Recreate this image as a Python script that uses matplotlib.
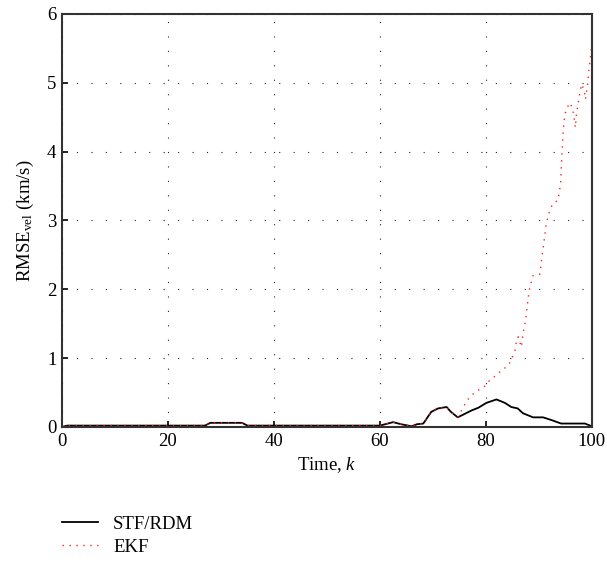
import matplotlib
matplotlib.use("Agg")
import matplotlib.pyplot as plt

plt.rcParams["font.family"] = "Liberation Serif"
plt.rcParams["mathtext.fontset"] = "custom"
plt.rcParams["mathtext.rm"] = "Liberation Serif"
plt.rcParams["mathtext.it"] = "Liberation Serif:italic"

# STF/RDM velocity RMSE
stf_k = [0, 1, 27, 28, 34, 35, 60, 62.5, 64, 66, 67, 68.2, 69.7, 71, 72.6, 73.4,
         74.7, 76, 77.3, 78.6, 80.1, 82, 83.6, 84.8, 86, 87, 88.9, 90.8, 92.4,
         94.2, 98.7, 100]
stf_v = [0.0, 0.02, 0.02, 0.06, 0.06, 0.02, 0.02, 0.07, 0.04, 0.01, 0.04, 0.05,
         0.22, 0.27, 0.29, 0.22, 0.14, 0.19, 0.24, 0.28, 0.35, 0.40, 0.35, 0.29,
         0.27, 0.20, 0.14, 0.14, 0.10, 0.05, 0.05, 0.01]

# EKF velocity RMSE
ekf_k = [0, 1, 27, 28, 34, 35, 60, 62.5, 64, 66, 67, 68.2, 69.7, 71, 72.6, 73.4,
         74.7, 75.1, 75.7, 77, 78.2, 79.2, 80.1, 80.8, 82, 83, 83.9, 84.6, 85.5,
         85.8, 86.1, 86.7, 87, 87.5, 88, 88.3, 88.9, 90.2, 90.5, 91, 91.4, 92.1,
         92.7, 93.6, 94.1, 94.3, 94.6, 94.9, 95.2, 95.8, 96.3, 96.7, 96.9, 97.1,
         97.4, 97.8, 98.1, 98.6, 98.8, 99.2, 99.5, 99.8, 100]
ekf_v = [0.0, 0.02, 0.02, 0.06, 0.06, 0.02, 0.02, 0.07, 0.04, 0.01, 0.04, 0.05,
         0.22, 0.27, 0.29, 0.22, 0.14, 0.19, 0.29, 0.44, 0.52, 0.56, 0.61, 0.69,
         0.75, 0.83, 0.87, 0.94, 1.11, 1.26, 1.31, 1.16, 1.35, 1.55, 1.88, 2.03,
         2.20, 2.22, 2.42, 2.71, 2.95, 3.16, 3.25, 3.29, 3.53, 3.86, 4.30, 4.54,
         4.61, 4.71, 4.64, 4.47, 4.35, 4.54, 4.69, 4.88, 4.98, 4.88, 4.76, 4.98,
         5.22, 5.41, 5.60]

fig = plt.figure(figsize=(6.07, 5.63), dpi=100)
ax = fig.add_axes([0.102, 0.2416, 0.873, 0.7336])

ax.plot(stf_k, stf_v, color="black", lw=1.3, label="STF/RDM")
ax.plot(ekf_k, ekf_v, color="#ff2020", lw=1.0, linestyle=(0, (1, 4)), label="EKF")

ax.set_xlim(0, 100)
ax.set_ylim(0, 6)
ax.set_xticks(range(0, 101, 20))
ax.set_yticks(range(0, 7))
ax.grid(True, color="#222222", linestyle=(0, (1, 12)), linewidth=0.8)
ax.tick_params(direction="in", labelsize=13.5, length=4, width=1.2, pad=4)
for s in ax.spines.values():
    s.set_linewidth(1.5)
    s.set_color("#333333")

ax.set_xlabel("Time, $k$", fontsize=13.5)
ax.set_ylabel("RMSE$_{\\mathrm{vel}}$ (km/s)", fontsize=13.5, labelpad=8)

fig.legend(loc="upper left", bbox_to_anchor=(0.075, 0.114), frameon=False,
           fontsize=13.5, handlelength=1.9, labelspacing=0.3, handletextpad=0.8)

fig.savefig("out.png", dpi=100)
